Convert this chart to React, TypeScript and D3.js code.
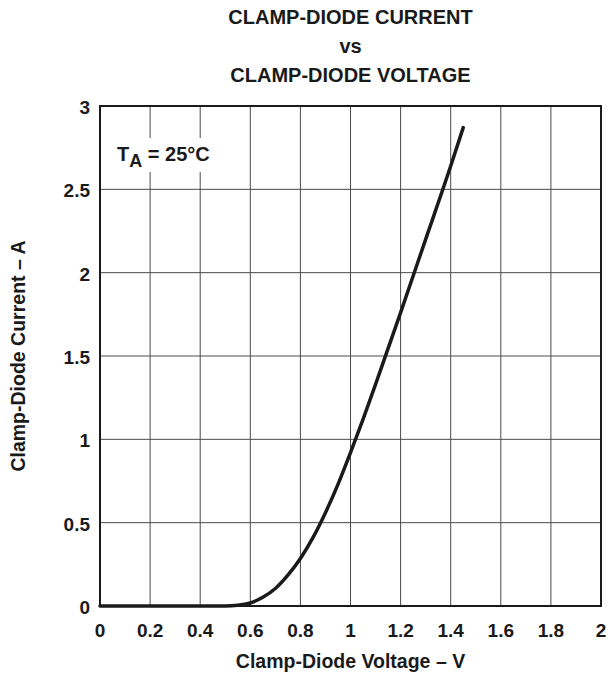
import React from "react";
import * as d3 from "d3";

const voltage = [0, 0.3, 0.5, 0.55, 0.6, 0.65, 0.7, 0.75, 0.8, 0.85, 0.9, 0.95, 1.0, 1.05, 1.1, 1.2, 1.3, 1.4, 1.45];
const current = [0, 0, 0, 0.004, 0.018, 0.052, 0.105, 0.185, 0.285, 0.41, 0.56, 0.73, 0.92, 1.12, 1.33, 1.76, 2.2, 2.64, 2.87];
const xTicks = [0, 0.2, 0.4, 0.6, 0.8, 1, 1.2, 1.4, 1.6, 1.8, 2];
const yTicks = [0, 0.5, 1, 1.5, 2, 2.5, 3];
const titleLines = ["CLAMP-DIODE CURRENT", "vs", "CLAMP-DIODE VOLTAGE"];

export default function App() {
  const W = 611, H = 679;
  const left = 100, right = 601, top = 106, bottom = 606;
  const x = d3.scaleLinear().domain([0, 2]).range([left, right]);
  const y = d3.scaleLinear().domain([0, 3]).range([bottom, top]);
  const line = d3.line<number>().x((_, i) => x(voltage[i])).y((d) => y(d)).curve(d3.curveMonotoneX);
  const font = "Arial, 'Liberation Sans', Helvetica, sans-serif";
  const cx = (left + right) / 2;
  const ink = "#1a1a1a";
  return (
    <svg width={W} height={H} style={{ position: "absolute", left: 0, top: 0 }} fontFamily={font}>
      <rect width={W} height={H} fill="#fff" />
      {titleLines.map((t, i) => (
        <text key={i} x={cx} y={24 + i * 29} textAnchor="middle" fontWeight="bold" fontSize={20} fill={ink}>{t}</text>
      ))}
      {xTicks.slice(1, -1).map((t) => (
        <line key={"gx" + t} x1={x(t)} x2={x(t)} y1={top} y2={bottom} stroke="#4a4a4a" strokeWidth={1} />
      ))}
      {yTicks.slice(1, -1).map((t) => (
        <line key={"gy" + t} x1={left} x2={right} y1={y(t)} y2={y(t)} stroke="#4a4a4a" strokeWidth={1} />
      ))}
      <rect x={left} y={top} width={right - left} height={bottom - top} fill="none" stroke={ink} strokeWidth={2} />
      <rect x={110} y={138} width={115} height={34} fill="#fff" />
      <text x={117} y={161} fontWeight="bold" fontSize={20} fill={ink}>
        T<tspan fontSize={18} dy={6}>A</tspan><tspan dy={-6}> = 25°C</tspan>
      </text>
      <path d={line(current) || ""} fill="none" stroke={ink} strokeWidth={3.5} strokeLinecap="round" />
      {xTicks.map((t) => (
        <text key={"xt" + t} x={x(t)} y={637} textAnchor="middle" fontWeight="bold" fontSize={19} fill={ink}>{String(t)}</text>
      ))}
      {yTicks.map((t) => (
        <text key={"yt" + t} x={90} y={y(t) + 8} textAnchor="end" fontWeight="bold" fontSize={19} fill={ink}>{String(t)}</text>
      ))}
      <text x={cx} y={668} textAnchor="middle" fontWeight="bold" fontSize={19.5} fill={ink}>Clamp-Diode Voltage – V</text>
      <text transform={`translate(25,${(top + bottom) / 2}) rotate(-90)`} textAnchor="middle" fontWeight="bold" fontSize={19.5} fill={ink}>Clamp-Diode Current – A</text>
    </svg>
  );
}
